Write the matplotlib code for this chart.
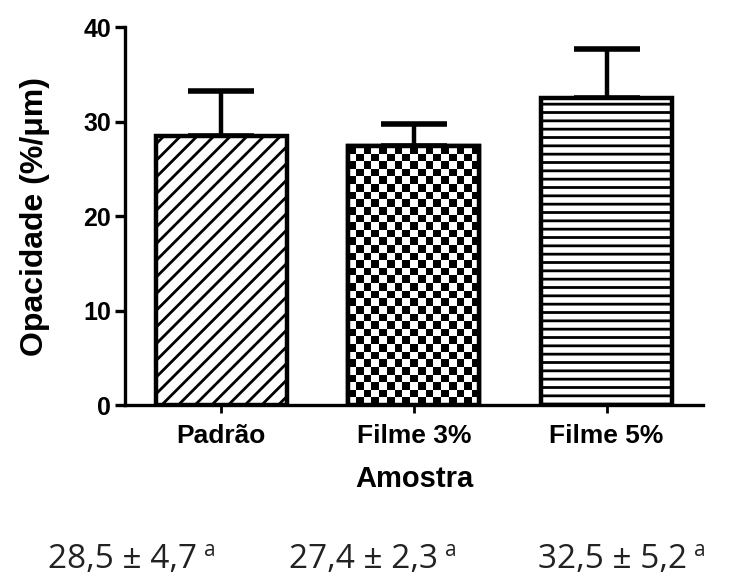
import numpy as np
import matplotlib
matplotlib.use("Agg")
import matplotlib.pyplot as plt

# Opacity per sample (mean and standard deviation, %/um)
amostras = ["Padrão", "Filme 3%", "Filme 5%"]
media = [28.5, 27.4, 32.5]
desvio = [4.7, 2.3, 5.2]
letras = ["a", "a", "a"]
yticks = [0, 10, 20, 30, 40]

plt.rcParams['font.family'] = ['Liberation Sans', 'DejaVu Sans']
plt.rcParams['hatch.linewidth'] = 2.0

fig = plt.figure(figsize=(7.42, 5.81), dpi=100)
ax = fig.add_axes([0.1685, 0.3029, 0.7789, 0.6506])

x = np.arange(len(amostras))
largura = 0.68
lw = 3.2

# error bars first (only the upper half shows above each bar)
ax.errorbar(x, media, yerr=[np.zeros(len(media)), desvio], fmt='none',
            ecolor='black', elinewidth=3.2, capsize=24, capthick=4, zorder=1)

bars = ax.bar(x, media, width=largura, color='white', edgecolor='black',
              linewidth=lw, zorder=2)
bars[0].set_hatch('//')
bars[2].set_hatch('--')

# checkerboard fill for Filme 3%
b = bars[1]
nx = 17
ny = int(round(b.get_height() / 0.8))
xx, yy = np.meshgrid(np.arange(nx), np.arange(ny))
xadrez = (xx + yy) % 2
img = ax.imshow(xadrez, cmap='gray', interpolation='nearest', aspect='auto',
                extent=[b.get_x(), b.get_x() + b.get_width(), 0, b.get_height()],
                zorder=2.5)
img.set_clip_path(b)
ax.bar(x[1], media[1], width=largura, color='none', edgecolor='black',
       linewidth=lw, zorder=3)

ax.set_xlim(-0.5, 2.5)
ax.set_ylim(0, 40)
ax.set_yticks(yticks)
ax.set_xticks(x)
ax.set_xticklabels(amostras, fontsize=19, fontweight='bold')
for lab in ax.get_yticklabels():
    lab.set_fontsize(18)
    lab.set_fontweight('bold')

for s in ['top', 'right']:
    ax.spines[s].set_visible(False)
for s in ['left', 'bottom']:
    ax.spines[s].set_linewidth(2.4)
ax.tick_params(axis='y', direction='out', length=7, width=2.4, pad=3)
ax.tick_params(axis='x', direction='out', length=6, width=2.0, pad=8)

ax.set_ylabel("Opacidade (%/μm)", fontsize=23, fontweight='bold', labelpad=24)
ax.set_xlabel("Amostra", fontsize=21, fontweight='bold', labelpad=12)

# mean ± sd written under the chart
xpos = [0.165, 0.49, 0.825]
for xp, m, d, l in zip(xpos, media, desvio, letras):
    txt = (f"{m:.1f} ± {d:.1f}").replace('.', ',')
    t = fig.text(xp, 0.022, txt, ha='center', va='baseline', fontsize=24,
                 family='Open Sans', color='#222222')
    ax.annotate(l, xy=(1, 0.45), xycoords=t, xytext=(5, 0),
                textcoords='offset points', ha='left', va='bottom',
                fontsize=15, family='Open Sans', color='#222222',
                annotation_clip=False)

fig.savefig("out.png", dpi=100, facecolor='white')
